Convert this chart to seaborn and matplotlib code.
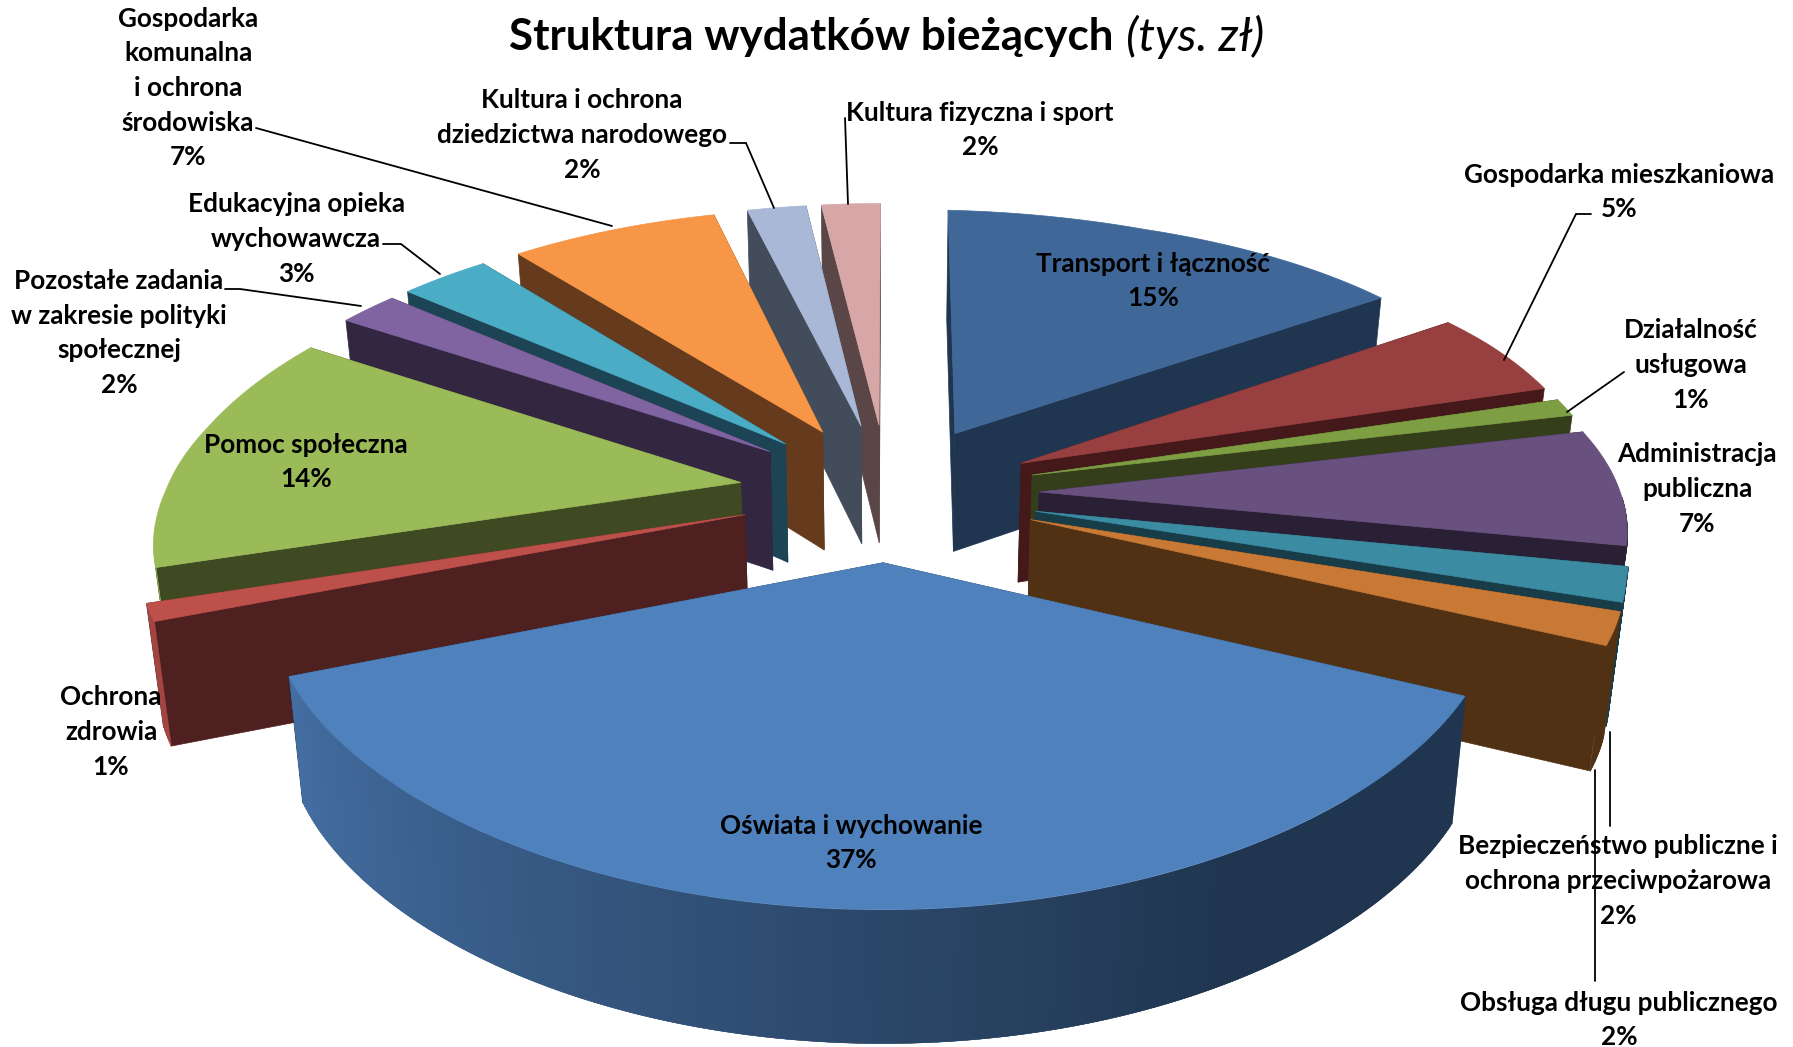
import numpy as np
import matplotlib
matplotlib.use('Agg')
import matplotlib.pyplot as plt
from matplotlib.collections import PolyCollection
import seaborn as sns

# dane
names = ['Transport i łączność', 'Gospodarka mieszkaniowa', 'Działalność\nusługowa',
         'Administracja\npubliczna', 'Bezpieczeństwo publiczne i\nochrona przeciwpożarowa',
         'Obsługa długu publicznego', 'Oświata i wychowanie', 'Ochrona\nzdrowia',
         'Pomoc społeczna', 'Pozostałe zadania\nw zakresie polityki\nspołecznej',
         'Edukacyjna opieka\nwychowawcza', 'Gospodarka\nkomunalna\ni ochrona\nśrodowiska',
         'Kultura i ochrona\ndziedzictwa narodowego', 'Kultura fizyczna i sport']
shares = [15, 5, 1, 7, 2, 2, 37, 1, 14, 2, 3, 7, 2, 2]

top_colors = ['#3F6899', '#984040', '#7E9E43', '#68507F', '#3B8CA3', '#C77935', '#4F81BD',
              '#BE504C', '#9BBB59', '#8064A2', '#4BACC6', '#F79646', '#A9B8D6', '#D7A7A7']
side_colors = ['#203650', '#45191A', '#343E1B', '#2A2035', '#183C48', '#513114', '#203650',
               '#4F2020', '#404A22', '#332641', '#1C4454', '#663A1C', '#434C5A', '#5A4646']

# srodki etykiet i linie odniesienia, w pikselach obrazka
label_pos = [(1153, 281), (1619, 192), (1691, 365), (1697, 489), (1618, 881),
             (1619, 1020), (851, 843), (111, 732), (306, 462), (119, 333),
             (296, 239), (188, 88), (582, 135), (980, 130)]
leaders = [[(1591, 214), (1576, 214), (1504, 360)],
           [(1624, 372), (1567, 412)],
           [(1610, 732), (1610, 826)],
           [(1595, 770), (1595, 981)],
           [(225, 289), (240, 289), (361, 306)],
           [(383, 244), (401, 244), (440, 274)],
           [(256, 128), (612, 226)],
           [(730, 143), (746, 143), (774, 208)],
           [(845, 118), (848, 204)]]

# geometria "3D"
cx, cy = 888, 487
A, B = 591, 264
kx, ky, kz = 0.119, 0.17, 0.08
explode = 0.26
depth = 120


def project(X, Y, low=False):
    # poprawki dopasowane do perspektywy z oryginalu
    left = np.minimum(1, 0.972 + np.where(Y < 0, 0.045, 0.07) * Y)
    right = np.interp(Y, [-1, -0.1, 0.3, 0.65], [0.988, 0.986, 0.984, 1])
    fx = np.where(X < 0, left, right)
    sx = cx + A * X * fx / (1 - kx * Y)
    sy = cy + B * Y / (1 - ky * Y) + np.interp(Y, [-1.3, -0.6, -0.25, 0.7, 1.3], [-10, -3, 4, 4, -1])
    sy = sy + 6 * np.clip(X * 2, 0, 1) * np.clip((0.7 - Y) / 0.3, 0, 1)
    if low:
        sy = sy + depth / (1 - kz * Y)
        sx = cx + (sx - cx) * 0.977
    return np.column_stack([sx, sy])


sns.set_theme(style='white')
plt.rcParams['font.family'] = ['Lato', 'DejaVu Sans']
tops = sns.color_palette(top_colors)
sides = sns.color_palette(side_colors)

fig = plt.figure(figsize=(17.93, 10.47), dpi=100)
ax = fig.add_axes([0, 0, 1, 1])
ax.set_xlim(0, 1793)
ax.set_ylim(1047, 0)
ax.axis('off')

edges = np.cumsum([0] + shares) / sum(shares) * 2 * np.pi
mids = (edges[:-1] + edges[1:]) / 2

# od tylu do przodu
for i in sorted(range(len(shares)), key=lambda j: -np.cos(mids[j])):
    a = np.linspace(edges[i], edges[i + 1], max(8, shares[i] * 6))
    ox, oy = explode * np.sin(mids[i]), -explode * np.cos(mids[i])
    X = ox + np.sin(a)
    Y = oy - np.cos(a)
    top = project(X, Y)
    low = project(X, Y, low=True)
    apex = project(np.array([ox]), np.array([oy]))
    apex_low = project(np.array([ox]), np.array([oy]), low=True)

    for k in (0, -1):
        face = np.vstack([apex, top[k], low[k], apex_low])
        ax.fill(face[:, 0], face[:, 1], color=sides[i], lw=0.5)

    # bok zewnetrzny, jasniejszy z lewej strony, tylko ta czesc ktora widac
    deg = np.degrees(a)
    light = np.array(tops[i]) * 0.86
    for j in range(len(a) - 1):
        if deg[j] < 90 or deg[j] > 253:
            continue
        j2 = min(j + 2, len(a) - 1)
        t = np.clip((deg[j] - 150) / 98, 0, 1)
        rim = light * t + np.array(sides[i]) * (1 - t)
        ax.add_collection(PolyCollection([[top[j], top[j2], low[j2], low[j]]],
                                         facecolors=[rim], edgecolors=[rim], linewidths=0.3))

    poly = np.vstack([apex, top])
    ax.fill(poly[:, 0], poly[:, 1], color=tops[i], lw=0.5)

for seg in leaders:
    xs, ys = zip(*seg)
    ax.plot(xs, ys, color='black', lw=1.3, solid_joinstyle='miter')

for name, val, (x, y) in zip(names, shares, label_pos):
    ax.text(x, y, f'{name}\n{val}%', ha='center', va='center', multialignment='center',
            fontsize=18.8, fontweight='bold', linespacing=1.53, color='black')

ax.text(509, 37, 'Struktura wydatków bieżących', ha='left', va='center',
        fontsize=31.7, fontweight='bold', color='black')
ax.text(1126, 37, '(tys. zł)', ha='left', va='center', fontsize=34, style='italic', color='black')

fig.savefig('out.png', dpi=100)
